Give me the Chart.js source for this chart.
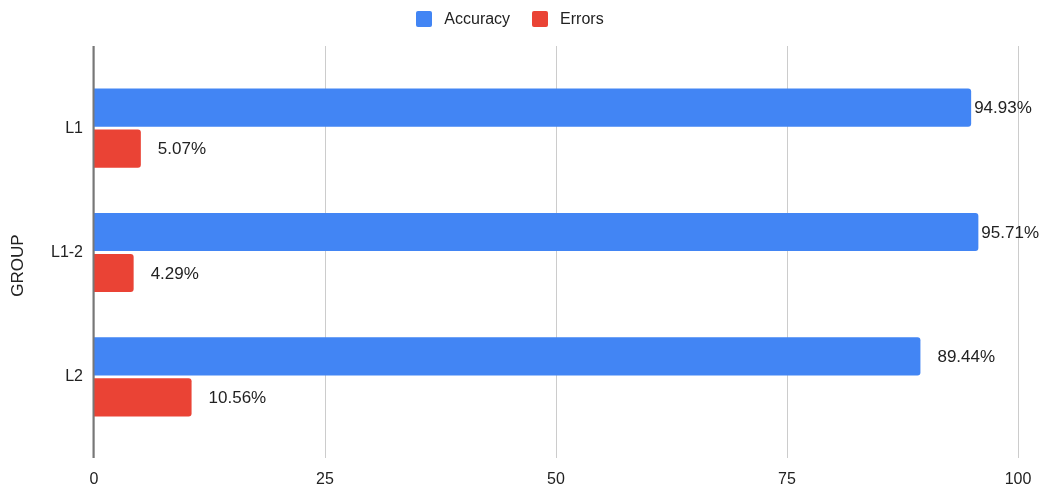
<!DOCTYPE html>
<html>
<head>
<meta charset="utf-8">
<script src="https://cdn.jsdelivr.net/npm/chart.js@4"></script>
<style>
  html, body { margin: 0; padding: 0; background: #fff; }
  #wrap { position: relative; width: 1040px; height: 489px; }
  #legend {
    position: absolute; top: 10px; left: -10px; width: 1040px;
    display: flex; justify-content: center; align-items: center;
    font: 16px "Liberation Sans", Arial, sans-serif; color: #222;
  }
  .lg-item { display: flex; align-items: center; margin: 0 11px; }
  .lg-box { width: 16px; height: 16px; border-radius: 2px; margin-right: 12px; }
  canvas { display: block; }
</style>
</head>
<body>
<div id="wrap">
  <div id="legend"></div>
  <canvas id="chart" width="1040" height="489"></canvas>
</div>
<script>
const GROUPS = ["L1", "L1-2", "L2"];
const ACCURACY = [94.93, 95.71, 89.44];
const ERRORS = [5.07, 4.29, 10.56];
const SERIES_NAMES = ["Accuracy", "Errors"];
const SERIES_COLORS = ["#4285f4", "#ea4335"];
const X_TICKS = [0, 25, 50, 75, 100];
const Y_TITLE = "GROUP";

const FONT = "'Liberation Sans', Arial, sans-serif";
const TEXT_COLOR = "#222";

function RENDER_LEGEND(){
  const box = document.getElementById("legend");
  box.innerHTML = "";
  SERIES_NAMES.forEach((name, i) => {
    const el = document.createElement("div");
    el.className = "lg-item";
    el.innerHTML = `<div class="lg-box" style="background:${SERIES_COLORS[i]}"></div><div>${name}</div>`;
    box.appendChild(el);
  });
}

// vertical grid lines run a bit past the plot area, like the sheets chart
const gridPlugin = {
  id: "gridLines",
  beforeDatasetsDraw(chart){
    const { ctx, chartArea, scales } = chart;
    ctx.save();
    X_TICKS.forEach(v => {
      const x = Math.round(scales.x.getPixelForValue(v)) + 0.5;
      ctx.beginPath();
      ctx.lineWidth = 1;
      ctx.strokeStyle = "#cccccc";
      ctx.moveTo(x, chartArea.top - 20);
      ctx.lineTo(x, chartArea.bottom + 19);
      ctx.stroke();
    });
    ctx.restore();
  },
  afterDatasetsDraw(chart){
    const { ctx, chartArea, scales } = chart;
    const x = Math.round(scales.x.getPixelForValue(0)) - 0.5;
    ctx.save();
    ctx.beginPath();
    ctx.lineWidth = 2;
    ctx.strokeStyle = "#777777";
    ctx.moveTo(x, chartArea.top - 20);
    ctx.lineTo(x, chartArea.bottom + 19);
    ctx.stroke();

    // axis title, rotated, sitting a little below the plot middle
    ctx.translate(18, (chartArea.top + chartArea.bottom) / 2 + 13);
    ctx.rotate(-Math.PI / 2);
    ctx.font = "17px " + FONT;
    ctx.fillStyle = TEXT_COLOR;
    ctx.textAlign = "center";
    ctx.textBaseline = "middle";
    ctx.fillText(Y_TITLE, 0, 0);
    ctx.restore();
  }
};

// percentage text at the end of each bar
const valueLabels = {
  id: "valueLabels",
  afterDatasetsDraw(chart){
    const ctx = chart.ctx;
    ctx.save();
    ctx.font = "17px " + FONT;
    ctx.fillStyle = TEXT_COLOR;
    ctx.textBaseline = "middle";
    ctx.textAlign = "left";
    chart.data.datasets.forEach((ds, di) => {
      chart.getDatasetMeta(di).data.forEach((bar, i) => {
        const txt = ds.data[i].toFixed(2) + "%";
        const w = ctx.measureText(txt).width;
        let x = bar.x + 17;
        if(x + w > chart.width - 2) x = bar.x + 3;
        ctx.fillText(txt, x, bar.y + 1);
      });
    });
    ctx.restore();
  }
};

RENDER_LEGEND();

new Chart(document.getElementById("chart"), {
  type: "bar",
  data: {
    labels: GROUPS,
    datasets: [
      { label: SERIES_NAMES[0], data: ACCURACY, backgroundColor: SERIES_COLORS[0] },
      { label: SERIES_NAMES[1], data: ERRORS, backgroundColor: SERIES_COLORS[1] }
    ]
  },
  options: {
    indexAxis: "y",
    responsive: false,
    animation: false,
    layout: { padding: { top: 66, right: 22, left: 0, bottom: 0 } },
    datasets: {
      bar: {
        categoryPercentage: 0.66,
        barPercentage: 0.93,
        borderRadius: 3,
        borderSkipped: "start"
      }
    },
    plugins: {
      legend: { display: false },
      tooltip: { enabled: false }
    },
    scales: {
      x: {
        min: 0,
        max: 100,
        afterFit: s => { s.height = 50; s.paddingLeft = 0; s.paddingRight = 0; },
        afterBuildTicks: s => { s.ticks = X_TICKS.map(v => ({ value: v })); },
        grid: { display: false, drawTicks: false },
        border: { display: false },
        ticks: { padding: 31, color: TEXT_COLOR, font: { family: FONT, size: 16 } }
      },
      y: {
        afterFit: s => { s.width = 94; s.paddingTop = 0; s.paddingBottom = 0; },
        grid: { display: false, drawTicks: false },
        border: { display: false },
        ticks: { padding: 11, color: TEXT_COLOR, font: { family: FONT, size: 16 } }
      }
    }
  },
  plugins: [gridPlugin, valueLabels]
});
</script>
</body>
</html>
